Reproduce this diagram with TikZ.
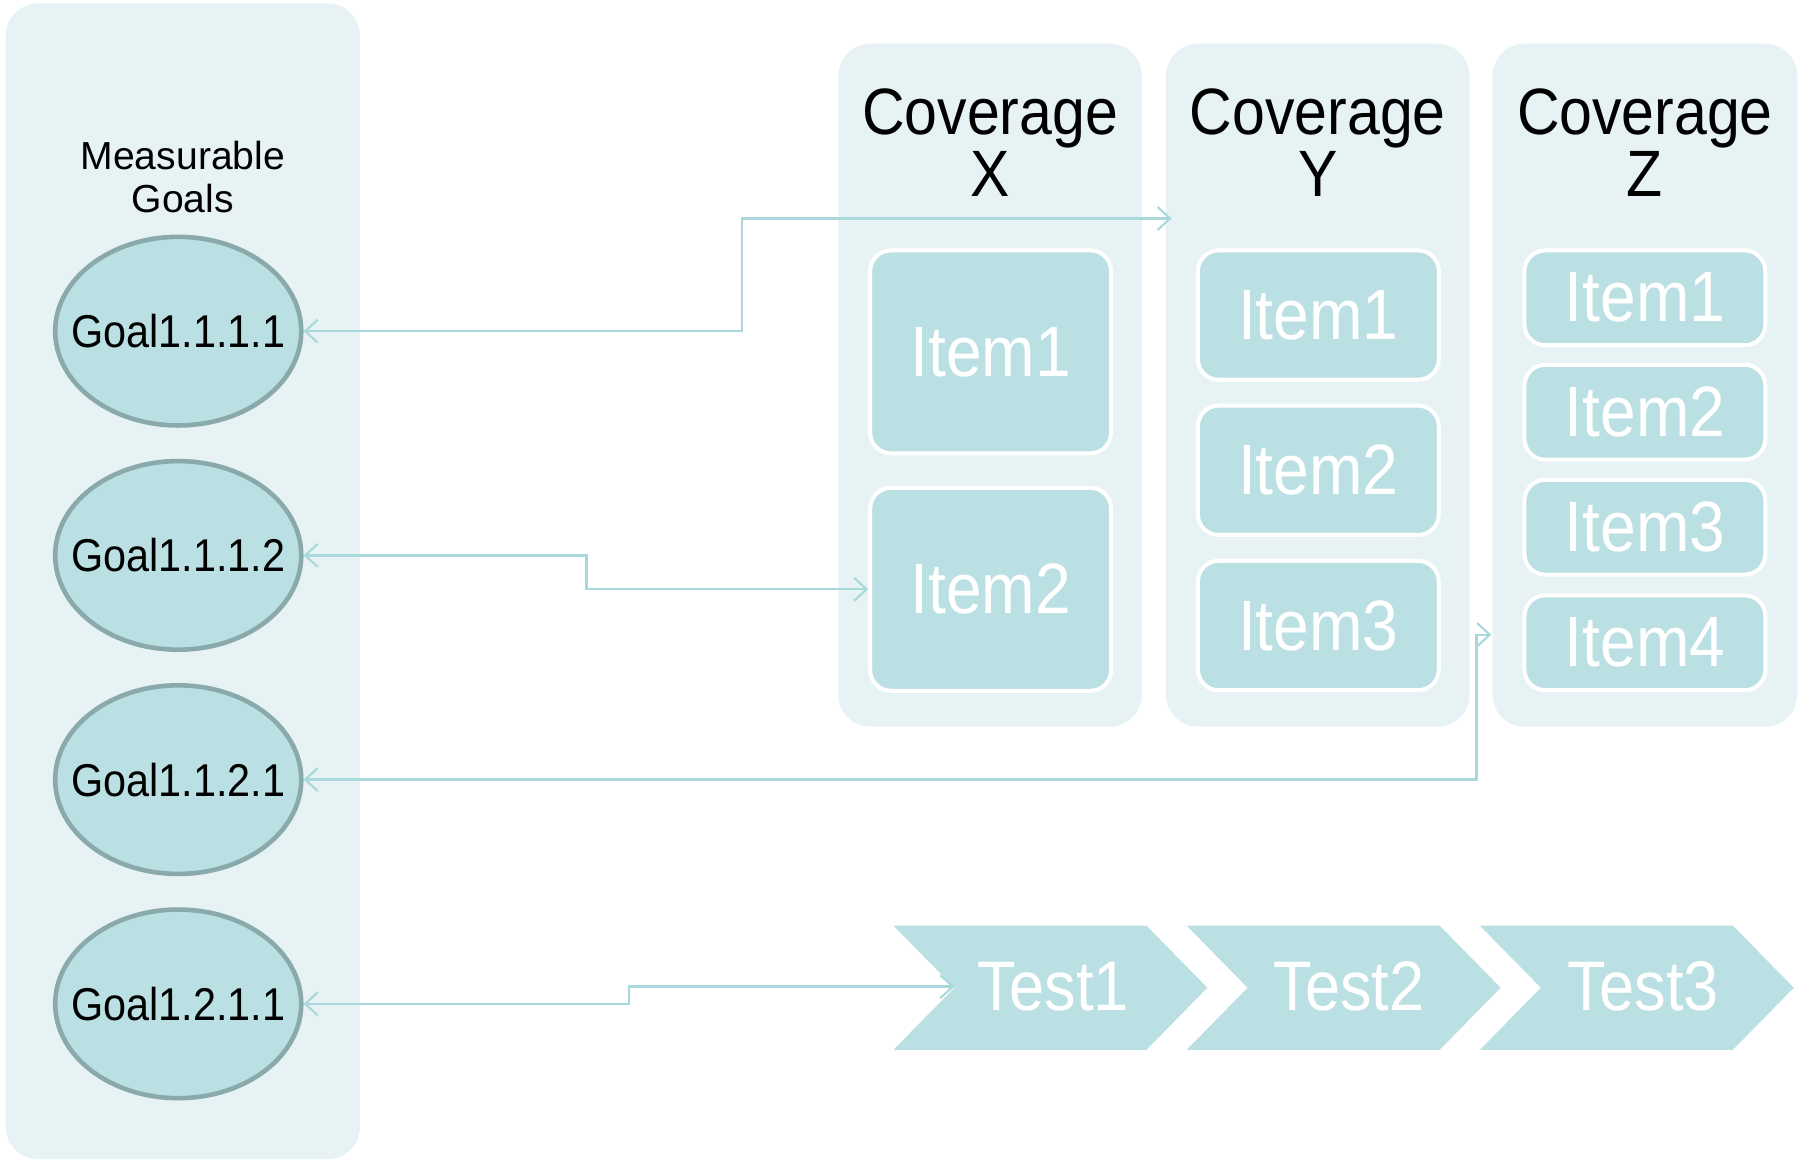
\documentclass[tikz,border=0pt]{standalone}
\usepackage{fontspec}
\setmainfont{Liberation Sans}
\newfontfamily\condfont[FakeStretch=0.9]{Liberation Sans}
\usetikzlibrary{arrows.meta,shapes.geometric}
\definecolor{panelbg}{HTML}{E6F2F4}
\definecolor{itemfill}{HTML}{BBE0E3}
\definecolor{goalline}{HTML}{8AA9AB}
\definecolor{conn}{HTML}{A8D8DC}
\begin{document}
\begin{tikzpicture}[x=1pt,y=-1pt,
  panel/.style={fill=panelbg, rounded corners=28pt, inner sep=0pt},
  goal/.style={ellipse, fill=itemfill, draw=goalline, line width=4pt,
    minimum width=214pt, minimum height=164pt, inner sep=0pt},
  goaltext/.style={inner sep=0pt, font=\condfont\fontsize{40}{44}\selectfont},
  item/.style={fill=itemfill, draw=white, line width=3.5pt, rounded corners=18pt,
    minimum width=209.5pt, inner sep=0pt, text=white,
    font=\condfont\fontsize{62}{66}\selectfont},
  title/.style={align=center, font=\condfont\fontsize{57}{54}\selectfont},
  chev/.style={fill=itemfill},
  chevtext/.style={text=white, inner sep=0pt, font=\condfont\fontsize{61}{64}\selectfont},
  conn/.style={draw=conn, line width=2pt,
    {Straight Barb[length=11pt,width=20pt,line width=1.8pt]}-{Straight Barb[length=11pt,width=20pt,line width=1.8pt]}}
]
\useasboundingbox (0,0) rectangle (1568,1009);

% panels
\node[panel, minimum width=308pt, minimum height=1005pt] (goals) at (159,505.5) {};
\node[panel, minimum width=264pt, minimum height=594pt] (px) at (861,335) {};
\node[panel, minimum width=264pt, minimum height=594pt] (py) at (1146,335) {};
\node[panel, minimum width=265pt, minimum height=594pt] (pz) at (1430.5,335) {};

% titles
\node[align=center, font=\fontsize{34}{38}\selectfont] (mg) at (159,154) {Measurable\\Goals};
\node[title] (tx) at (861,124) {Coverage\\X};
\node[title] (ty) at (1146,124) {Coverage\\Y};
\node[title] (tz) at (1430.5,124) {Coverage\\Z};

% goals
\node[goal, label={[goaltext]center:Goal1.1.1.1}] (g1) at (155,288) {};
\node[goal, label={[goaltext]center:Goal1.1.1.2}] (g2) at (155,483) {};
\node[goal, label={[goaltext]center:Goal1.1.2.1}] (g3) at (155,678) {};
\node[goal, label={[goaltext]center:Goal1.2.1.1}] (g4) at (155,873) {};

% items X
\node[item, minimum height=176.5pt] (x1) at (861.5,306) {Item1};
\node[item, minimum height=176.5pt] (x2) at (861.5,512.5) {Item2};
% items Y
\node[item, minimum height=112.5pt] (y1) at (1146.5,274) {Item1};
\node[item, minimum height=112.5pt] (y2) at (1146.5,409) {Item2};
\node[item, minimum height=112.5pt] (y3) at (1146.5,544) {Item3};
% items Z
\node[item, minimum height=82.5pt] (z1) at (1430.5,259) {Item1};
\node[item, minimum height=82.5pt] (z2) at (1430.5,358.5) {Item2};
\node[item, minimum height=82.5pt] (z3) at (1430.5,458.5) {Item3};
\node[item, minimum height=82.5pt] (z4) at (1430.5,559) {Item4};

% chevrons
\foreach \dx in {0,255,510}{
  \fill[chev] (777+\dx,805) -- (997+\dx,805) -- (1050+\dx,859) -- (997+\dx,913)
     -- (777+\dx,913) -- (830+\dx,859) -- cycle;
}
\node[chevtext] (t1) at (916,858) {Test1};
\node[chevtext] (t2) at (1173,858) {Test2};
\node[chevtext] (t3) at (1429,858) {Test3};

% connector points
\coordinate (b1) at (645,190);
\coordinate (c1) at (1019,190);
\coordinate (b2) at (510,512.5);
\coordinate (b3) at (1284,552);
\coordinate (c3) at (1297,552);
\coordinate (b4) at (547,858);
\coordinate (c4) at (830,858);

\draw[conn] (g1.east) -| (b1) -- (c1);
\draw[conn] (g2.east) -| (b2) -- (x2.west);
\draw[conn] (g3.east) -| (b3) -- (c3);
\draw[conn] (g4.east) -| (b4) -- (c4);
\end{tikzpicture}
\end{document}
